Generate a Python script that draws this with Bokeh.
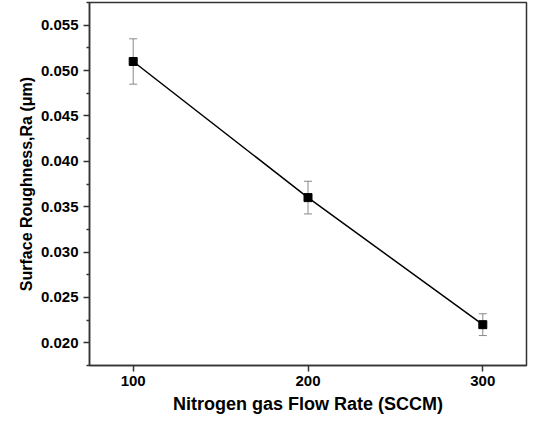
from bokeh.plotting import figure
from bokeh.models import ColumnDataSource, Whisker, TeeHead, FixedTicker, PrintfTickFormatter, Range1d
from bokeh.embed import file_html
from bokeh.resources import INLINE

flow_rate = [100, 200, 300]
roughness = [0.051, 0.036, 0.022]
error = [0.0025, 0.0018, 0.0012]
y_ticks = [0.020, 0.025, 0.030, 0.035, 0.040, 0.045, 0.050, 0.055]
x_ticks = [100, 200, 300]

src = ColumnDataSource(dict(
    x=flow_rate, y=roughness,
    upper=[v + e for v, e in zip(roughness, error)],
    lower=[v - e for v, e in zip(roughness, error)],
))

p = figure(width=528, height=416, output_backend="svg", toolbar_location=None,
           x_range=Range1d(75, 325), y_range=Range1d(0.0175, 0.0575),
           min_border_left=89, min_border_right=2, min_border_top=2, min_border_bottom=50)
p.grid.visible = False
p.outline_line_color = "#333333"
p.outline_line_width = 1.5
p.background_fill_color = "white"
p.border_fill_color = "white"

w = Whisker(source=src, base="x", upper="upper", lower="lower", line_color="#888888", line_width=1,
            upper_head=TeeHead(size=8, line_color="#888888", line_width=1),
            lower_head=TeeHead(size=8, line_color="#888888", line_width=1))
p.add_layout(w)
p.line("x", "y", source=src, line_color="black", line_width=1.5)
p.scatter("x", "y", source=src, marker="square", size=8, fill_color="black", line_color="black")

font = "Liberation Sans"
for ax in (p.xaxis[0], p.yaxis[0]):
    ax.axis_line_color = "#333333"
    ax.axis_line_width = 1.5
    ax.major_tick_line_color = "#333333"
    ax.minor_tick_line_color = "#333333"
    ax.major_tick_line_width = 1.5
    ax.minor_tick_line_width = 1.5
    ax.major_tick_in = 0
    ax.major_tick_out = 6
    ax.minor_tick_in = 0
    ax.minor_tick_out = 3
    ax.major_label_text_font = font
    ax.major_label_text_font_style = "bold"
    ax.major_label_text_font_size = "15px"
    ax.major_label_text_color = "black"
    ax.axis_label_text_font = font
    ax.axis_label_text_font_style = "bold"
    ax.axis_label_text_color = "black"

p.xaxis.axis_label_text_font_size = "18px"
p.yaxis.axis_label_text_font_size = "16px"
p.xaxis.ticker = FixedTicker(ticks=x_ticks, minor_ticks=[])
p.yaxis.ticker = FixedTicker(ticks=y_ticks, minor_ticks=[0.0175 + 0.005 * i for i in range(9)])
p.yaxis.formatter = PrintfTickFormatter(format="%.3f")
p.xaxis.axis_label = "Nitrogen gas Flow Rate (SCCM)"
p.yaxis.axis_label = "Surface Roughness,Ra (\u03bcm)"
p.xaxis.major_label_standoff = 4
p.yaxis.major_label_standoff = 5
p.xaxis.axis_label_standoff = 5
p.yaxis.axis_label_standoff = 3

open("out.html", "w").write(file_html(p, INLINE))
